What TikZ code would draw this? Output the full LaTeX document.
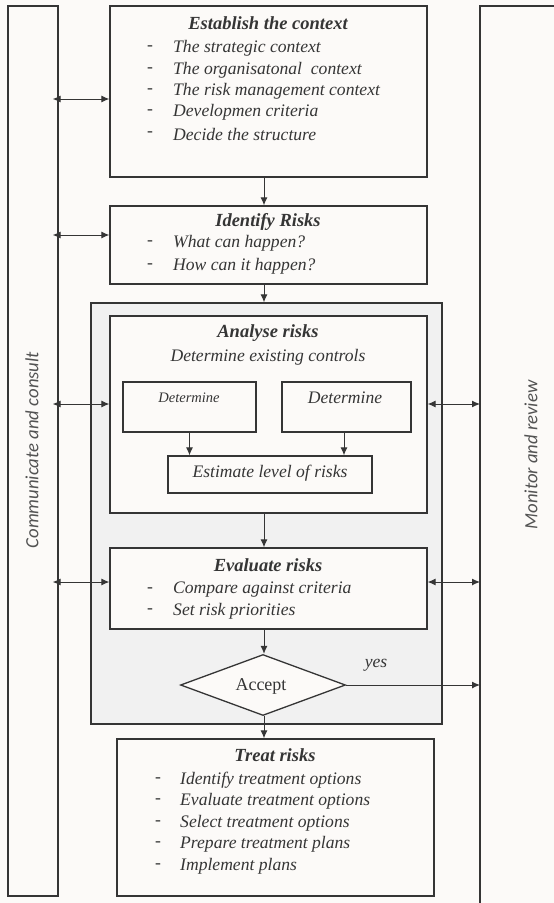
\documentclass[tikz,border=0pt]{standalone}
\usepackage{fontspec}
\setmainfont{Liberation Serif}
\newfontfamily\sidefont{Carlito}
\usetikzlibrary{shapes.geometric,arrows.meta}
\definecolor{paper}{HTML}{FCFAF8}
\definecolor{ink}{HTML}{353535}
\definecolor{panel}{HTML}{F1F1F1}
\tikzset{
  box/.style={draw=ink, line width=1.3pt, fill=paper, inner sep=0pt},
  tip/.tip={Latex[length=8pt,width=7pt]},
  arr/.style={draw=ink, line width=1pt, -tip},
  darr/.style={draw=ink, line width=1pt, tip-tip},
  boxtitle/.style={font=\fontsize{18.5}{20}\selectfont\bfseries\itshape, text=ink, inner sep=0pt},
  listitem/.style={font=\fontsize{17.6}{20}\selectfont\itshape, text=ink, anchor=west, inner sep=0pt},
  bullet/.style={font=\fontsize{17.6}{20}\selectfont, text=ink, inner sep=0pt},
  sidelabel/.style={font=\fontsize{18.7}{20}\selectfont\sidefont\itshape, text=ink!85, inner sep=0pt, rotate=90}
}
\begin{document}
\begin{tikzpicture}[x=1pt,y=-1pt]
\useasboundingbox (0,0) rectangle (554,903);
\fill[paper] (0,0) rectangle (554,903);

% side bars
\node[box, minimum width=50, minimum height=890] (lb) at (33,451) {};
\node[sidelabel] (lbt) at (32,450) {Communicate and consult};
\draw[draw=ink, line width=1.3pt] (560,6) -- (480,6) -- (480,910);
\coordinate (rb) at (480,6);
\node[sidelabel] (rbt) at (531,455) {Monitor and review};

% shaded panel around analysis and evaluation
\node[box, fill=panel, minimum width=351, minimum height=421] (panel) at (266.5,513.5) {};

% establish the context
\node[box, minimum width=317, minimum height=171] (est) at (268.5,91.5) {};
\node[boxtitle] (estT) at (268,23) {Establish the context};
\foreach \y/\t [count=\i] in {48/The strategic context, 70/The organisatonal\ \ context, 91/The risk management context, 112/Developmen criteria, 134/Decide the structure}{
  \node[bullet] (estD\i) at (150,\y) {-};
  \node[listitem] (estI\i) at (173,\y) {\t};
}

% identify risks
\node[box, minimum width=317, minimum height=78] (idf) at (268.5,245) {};
\node[boxtitle] (idfT) at (268,222) {Identify Risks};
\foreach \y/\t [count=\i] in {243/What can happen?, 266/How can it happen?}{
  \node[bullet] (idfD\i) at (150,\y) {-};
  \node[listitem] (idfI\i) at (173,\y) {\t};
}

% analyse risks
\node[box, minimum width=317, minimum height=197] (ana) at (268.5,414.5) {};
\node[boxtitle] (anaT) at (268,333) {Analyse risks};
\node[listitem, anchor=center] (anaS) at (268,357) {Determine existing controls};
\node[box, minimum width=133, minimum height=50] (det1) at (189.5,407) {};
\node[listitem, anchor=center, font=\fontsize{14.5}{16}\selectfont\itshape] (det1T) at (189,398) {Determine};
\node[box, minimum width=129, minimum height=50] (det2) at (346.5,407) {};
\node[listitem, anchor=center] (det2T) at (345,398) {Determine};
\node[box, minimum width=204, minimum height=37] (lvl) at (270,474.5) {};
\node[listitem, anchor=center] (lvlT) at (270,473) {Estimate level of risks};

% evaluate risks
\node[box, minimum width=317, minimum height=81] (evl) at (268.5,588.5) {};
\node[boxtitle] (evlT) at (268,565) {Evaluate risks};
\foreach \y/\t [count=\i] in {590/Compare against\ criteria, 611/Set risk priorities}{
  \node[bullet] (evlD\i) at (150,\y) {-};
  \node[listitem] (evlI\i) at (173,\y) {\t};
}

% acceptance decision
\node[box, diamond, aspect=2.7, minimum width=165, minimum height=61, inner sep=0pt] (acc) at (263,685) {};
\node[bullet, font=\fontsize{18}{20}\selectfont] (accT) at (261,686) {Accept};
\node[listitem, anchor=center] (yes) at (376,665) {yes};

% treat risks
\node[box, minimum width=317, minimum height=157] (trt) at (275.5,817.5) {};
\node[boxtitle] (trtT) at (275,755) {Treat risks};
\foreach \y/\t [count=\i] in {780/Identify treatment options, 801/Evaluate\ treatment options, 823/Select treatment options, 844/Prepare treatment plans, 866/Implement plans}{
  \node[bullet] (trtD\i) at (158,\y) {-};
  \node[listitem] (trtI\i) at (180,\y) {\t};
}

% main flow
\coordinate (spine) at (264,0);
\draw[arr] (est.south -| spine) -- (idf.north -| spine);
\draw[arr] (idf.south -| spine) -- (panel.north -| spine);
\draw[arr] (ana.south -| spine) -- (evl.north -| spine);
\draw[arr] (evl.south -| spine) -- (acc.north -| spine);
\draw[arr] (acc.south -| spine) -- (trt.north -| spine);
\draw[arr] (det1.south) -- (det1.south |- lvl.north);
\draw[arr] (det2.south -| 344,0) -- (lvl.north -| 344,0);
\draw[arr] (acc.east) -- (acc.east -| rb);

% links to the side bars
\draw[darr, shorten <=-6pt] (lb.east |- 0,99) -- (est.west |- 0,99);
\draw[darr, shorten <=-6pt] (lb.east |- 0,235) -- (idf.west |- 0,235);
\draw[darr, shorten <=-6pt] (lb.east |- 0,404) -- (ana.west |- 0,404);
\draw[darr, shorten <=-6pt] (lb.east |- 0,582) -- (evl.west |- 0,582);
\draw[darr] (ana.east |- 0,404) -- (rb |- 0,404);
\draw[darr] (evl.east |- 0,582) -- (rb |- 0,582);
\end{tikzpicture}
\end{document}
